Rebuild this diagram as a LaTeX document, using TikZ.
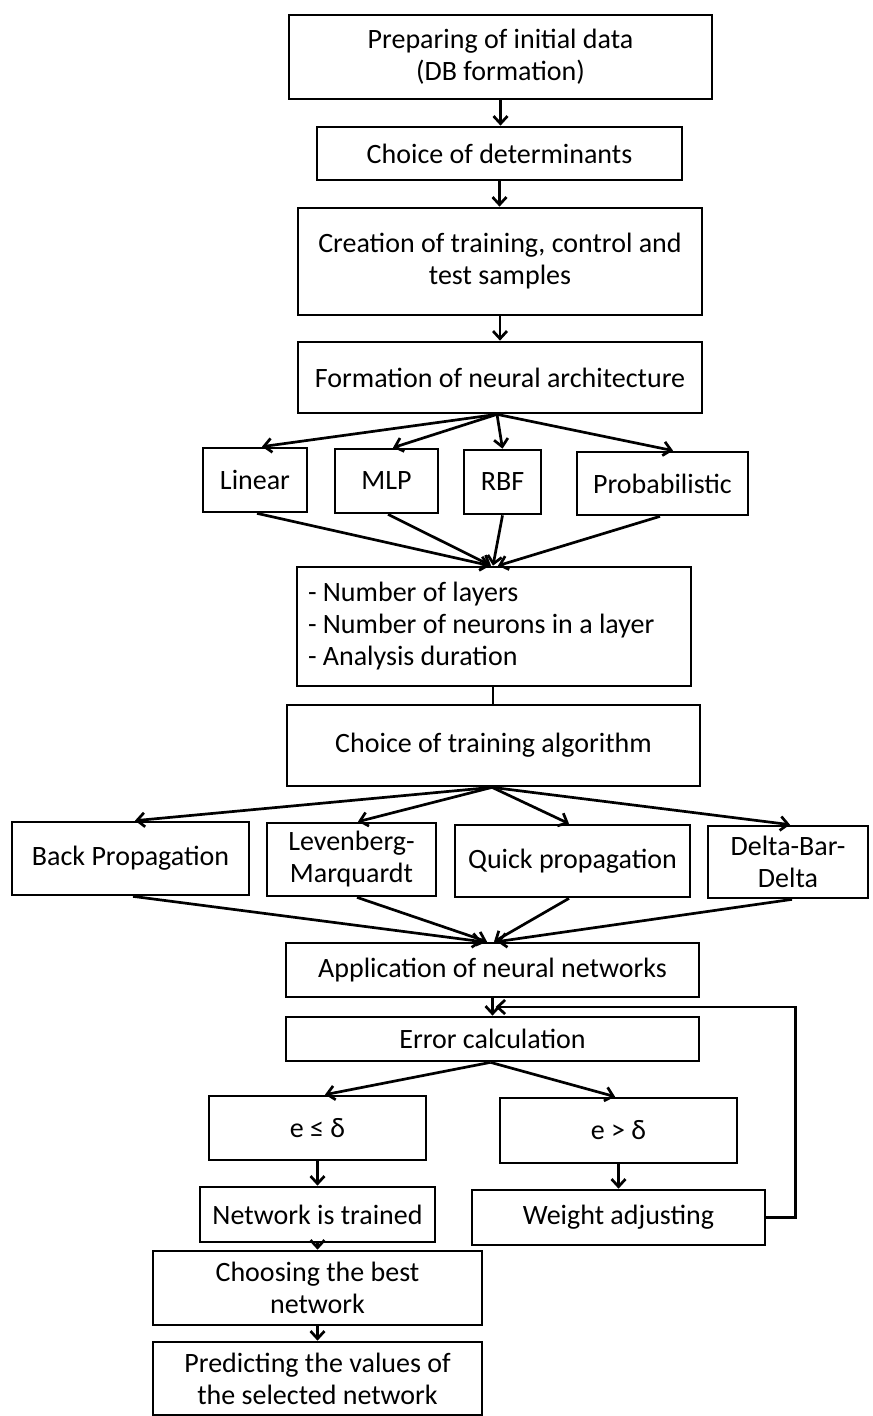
\documentclass[tikz,border=0pt]{standalone}
\usepackage{fontspec}
\setmainfont{Carlito}
\usetikzlibrary{arrows.meta,calc}
\begin{document}
\begin{tikzpicture}[x=0.5pt,y=-0.5pt,
  box/.style={draw, line width=1.35pt, inner sep=2pt, align=center, font=\fontsize{14}{16}\selectfont},
  arr/.style={line width=1.35pt, -{Straight Barb[length=3.8pt,width=7pt]}},
  ln/.style={line width=1.35pt}]
\useasboundingbox (0,0) rectangle (872,1416);
\fill[white] (0,0) rectangle (872,1416);

% top chain
\node[box, minimum width=211.5pt, minimum height=42pt] (prep) at (500.5,57) {Preparing of initial data\\(DB formation)};
\node[box, minimum width=182.5pt, minimum height=26.5pt] (det) at (499.5,153.5) {Choice of determinants};
\node[box, minimum width=202pt, minimum height=53.5pt] (create) at (500,261.5) {Creation of training, control and\\test samples};
\node[box, minimum width=202pt, minimum height=35.5pt] (form) at (500,377.5) {Formation of neural architecture};

% architectures
\node[box, minimum width=52pt, minimum height=32pt] (linear) at (255,480) {Linear};
\node[box, minimum width=51.5pt, minimum height=32pt] (mlp) at (386.5,481) {MLP};
\node[box, minimum width=38.5pt, minimum height=32pt] (rbf) at (502.5,482) {RBF};
\node[box, minimum width=85.5pt, minimum height=31.5pt] (prob) at (662.5,483.5) {Probabilistic};

\node[box, minimum height=59.5pt, text width=186pt, inner xsep=5.5pt, align=flush left] (params) at (494,626.5) {- Number of layers\\- Number of neurons in a layer\\- Analysis duration};
\node[box, minimum width=206.5pt, minimum height=40.5pt] (train) at (493.5,745.5) {Choice of training algorithm};

% algorithms
\node[box, minimum width=118.5pt, minimum height=36.5pt] (bp) at (130.5,858.5) {Back Propagation};
\node[box, minimum width=84.5pt, minimum height=36.5pt] (lm) at (351.5,859.5) {Levenberg-\\Marquardt};
\node[box, minimum width=117.5pt, minimum height=36pt] (qp) at (572.5,861) {Quick propagation};
\node[box, minimum width=80pt, minimum height=36pt] (dbd) at (788,862) {Delta-Bar-\\Delta};

\node[box, minimum width=206.5pt, minimum height=27pt] (app) at (492.5,970) {Application of neural networks};
\node[box, minimum width=206.5pt, minimum height=22pt] (err) at (492.5,1039) {Error calculation};

\node[box, minimum width=108.5pt, minimum height=32pt] (le) at (317.5,1128) {e ≤ δ};
\node[box, minimum width=118.5pt, minimum height=32.5pt] (gt) at (618.5,1130.5) {e > δ};
\node[box, minimum width=117.5pt, minimum height=27.5pt] (nt) at (317.5,1214.5) {Network is trained};
\node[box, minimum width=146.5pt, minimum height=27.5pt] (wa) at (618.5,1217.5) {Weight adjusting};
\node[box, minimum width=164.5pt, minimum height=37pt] (choose) at (317.5,1288) {Choosing the best\\network};
\node[box, minimum width=164.5pt, minimum height=36.5pt] (pred) at (317.5,1378.5) {Predicting the values of\\the selected network};

% connectors: top chain
\draw[arr] (prep.south) -- (prep.south |- det.north);
\draw[arr] (det.south) -- (det.south |- create.north);
\draw[arr] (create.south) -- (create.south |- form.north);

% fan to architectures
\coordinate (fa) at ([xshift=-1.5pt]form.south);
\draw[arr] (fa) -- ([xshift=3.5pt]linear.north);
\draw[arr] (fa) -- ([xshift=3.25pt]mlp.north);
\draw[arr] (fa) -- (rbf.north);
\draw[arr] (fa) -- ([xshift=5.25pt]prob.north);

% converge to params
\draw[arr] ([xshift=1pt]linear.south) -- ([xshift=-2pt]params.north);
\draw[arr] ([xshift=0.75pt]mlp.south) -- ([xshift=-1.5pt]params.north);
\draw[arr] (rbf.south) -- ([xshift=-0.5pt]params.north);
\draw[arr] ([xshift=-1.25pt]prob.south) -- ([xshift=2pt]params.north);

\draw[ln] ([xshift=-0.5pt]params.south) -- ([xshift=-0.5pt]params.south |- train.north);

% fan to algorithms
\coordinate (fb) at ([xshift=-0.75pt]train.south);
\draw[arr] (fb) -- ([xshift=2.25pt]bp.north);
\draw[arr] (fb) -- ([xshift=3.25pt]lm.north);
\draw[arr] (fb) -- ([xshift=-1.75pt]qp.north);
\draw[arr] (fb) -- ([xshift=1pt]dbd.north);

% converge to application
\draw[arr] ([xshift=1.25pt]bp.south) -- ([xshift=-5.25pt]app.north);
\draw[arr] ([xshift=2.75pt]lm.south) -- ([xshift=-2.75pt]app.north);
\draw[arr] ([xshift=-1.75pt]qp.south) -- ([xshift=0.75pt]app.north);
\draw[arr] ([xshift=2pt]dbd.south) -- ([xshift=2.25pt]app.north);

\draw[arr] (app.south) -- (app.south |- err.north);

% error fan
\coordinate (fe) at ([xshift=-1pt]err.south);
\draw[arr] (fe) -- ([xshift=3.75pt]le.north);
\draw[arr] (fe) -- ([xshift=-1.75pt]gt.north);

\draw[arr] (le.south) -- (le.south |- nt.north);
\draw[arr] (gt.south) -- (gt.south |- wa.north);
\draw[arr] (nt.south) -- (nt.south |- choose.north);
\draw[arr] (choose.south) -- (choose.south |- pred.north);

% feedback loop
\coordinate (fbin) at ($(app.south)!0.5!(err.north)+(3,0)$);
\draw[arr] (wa.east) -- ++(29,0) |- (fbin);
\end{tikzpicture}
\end{document}
